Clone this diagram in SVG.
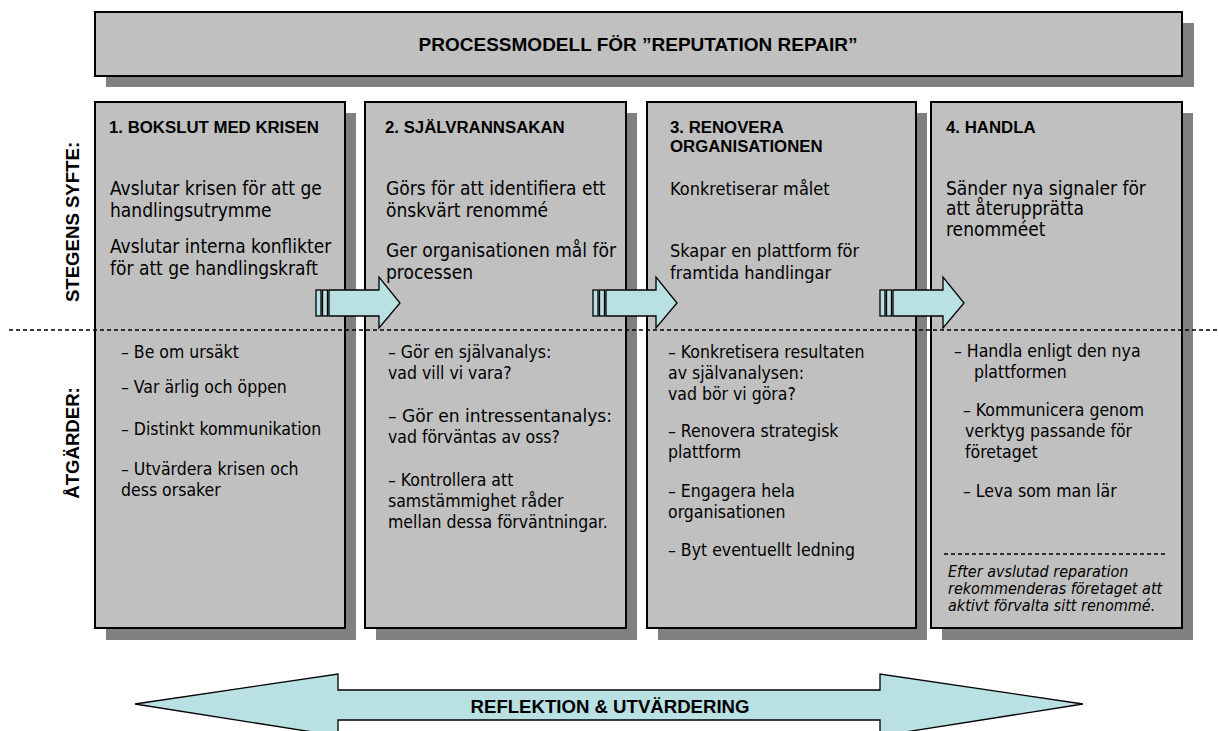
<svg xmlns="http://www.w3.org/2000/svg" width="1218" height="731" viewBox="0 0 1218 731">
  <style>
    .box { fill: #c0c0c0; stroke: #000; stroke-width: 2; }
    .shadow { fill: #808080; }
    .arrow { fill: #b9e0e2; stroke: #000; stroke-width: 1.3; stroke-linejoin: miter; }
    .dash { stroke: #000; stroke-width: 1.3; stroke-dasharray: 4 3; fill: none; }
    .title { font-family: "Liberation Sans", Arial, sans-serif; font-weight: bold; font-size: 19px; fill: #000; }
    .label { font-family: "Liberation Sans", Arial, sans-serif; font-weight: bold; font-size: 18.6px; fill: #000; }
    .head { font-family: "Liberation Sans", Arial, sans-serif; font-weight: bold; font-size: 16.8px; fill: #000; }
    .body, .aim, .note { font-family: "DejaVu Sans Condensed", "DejaVu Sans", sans-serif; font-stretch: condensed; fill: #000; }
    .body { font-size: 17.5px; }
    .aim { font-size: 19px; }
    .aim.small { font-size: 18px; }
    .note { font-size: 16px; font-style: italic; }
  </style>
  <defs>
    <g id="step-arrow">
      <rect class="arrow" x="0" y="290" width="5" height="26"/>
      <rect class="arrow" x="6.5" y="290" width="5" height="26"/>
      <polygon class="arrow" points="13,290 63,290 63,277 84,303 63,328 63,316 13,316"/>
    </g>
  </defs>
  <rect width="1218" height="731" fill="#fff"/>

  <!-- Title -->
  <g id="title">
    <rect class="shadow" x="106" y="23" width="1088" height="64"/>
    <rect class="box" x="95" y="12" width="1087" height="64"/>
    <text class="title" x="638" y="51" text-anchor="middle">PROCESSMODELL FÖR ”REPUTATION REPAIR”</text>
  </g>

  <!-- Row labels -->
  <g id="row-labels">
    <text class="label" transform="translate(79,222) rotate(-90)" text-anchor="middle">STEGENS SYFTE:</text>
    <text class="label" transform="translate(79,443) rotate(-90)" text-anchor="middle">ÅTGÄRDER:</text>
  </g>

  <!-- Step 1 -->
  <g id="step1">
    <rect class="shadow" x="106" y="113" width="250" height="527"/>
    <rect class="box" x="95" y="102" width="250" height="526"/>
    <text class="head" x="109" y="133">1. BOKSLUT MED KRISEN</text>
    <text class="aim" x="110" y="195">Avslutar krisen för att ge</text>
    <text class="aim" x="110" y="217">handlingsutrymme</text>
    <text class="aim" x="110" y="253">Avslutar interna konflikter</text>
    <text class="aim" x="110" y="275">för att ge handlingskraft</text>
    <text class="body" x="121" y="358">– Be om ursäkt</text>
    <text class="body" x="121" y="393">– Var ärlig och öppen</text>
    <text class="body" x="121" y="435">– Distinkt kommunikation</text>
    <text class="body" x="121" y="475">– Utvärdera krisen och</text>
    <text class="body" x="121" y="496">dess orsaker</text>
  </g>

  <!-- Step 2 -->
  <g id="step2">
    <rect class="shadow" x="376" y="113" width="261" height="527"/>
    <rect class="box" x="365" y="102" width="261" height="526"/>
    <text class="head" x="385" y="133">2. SJÄLVRANNSAKAN</text>
    <text class="aim" x="386" y="195">Görs för att identifiera ett</text>
    <text class="aim" x="386" y="217">önskvärt renommé</text>
    <text class="aim" x="386" y="257">Ger organisationen mål för</text>
    <text class="aim" x="386" y="279">processen</text>
    <text class="body" x="388" y="358">– Gör en självanalys:</text>
    <text class="body" x="388" y="379">vad vill vi vara?</text>
    <text class="body" x="388" y="422" textLength="224" lengthAdjust="spacingAndGlyphs">– Gör en intressentanalys:</text>
    <text class="body" x="388" y="443">vad förväntas av oss?</text>
    <text class="body" x="388" y="486">– Kontrollera att</text>
    <text class="body" x="388" y="507">samstämmighet råder</text>
    <text class="body" x="388" y="528">mellan dessa förväntningar.</text>
  </g>

  <!-- Step 3 -->
  <g id="step3">
    <rect class="shadow" x="658" y="113" width="269" height="527"/>
    <rect class="box" x="647" y="102" width="269" height="526"/>
    <text class="head" x="670" y="133">3. RENOVERA</text>
    <text class="head" x="670" y="152">ORGANISATIONEN</text>
    <text class="aim small" x="670" y="195">Konkretiserar målet</text>
    <text class="aim small" x="670" y="257">Skapar en plattform för</text>
    <text class="aim small" x="670" y="279">framtida handlingar</text>
    <text class="body" x="668" y="358">– Konkretisera resultaten</text>
    <text class="body" x="668" y="379">av självanalysen:</text>
    <text class="body" x="668" y="400">vad bör vi göra?</text>
    <text class="body" x="668" y="437">– Renovera strategisk</text>
    <text class="body" x="668" y="458">plattform</text>
    <text class="body" x="668" y="497">– Engagera hela</text>
    <text class="body" x="668" y="518">organisationen</text>
    <text class="body" x="668" y="556">– Byt eventuellt ledning</text>
  </g>

  <!-- Step 4 -->
  <g id="step4">
    <rect class="shadow" x="942" y="113" width="251" height="527"/>
    <rect class="box" x="931" y="102" width="251" height="526"/>
    <text class="head" x="946" y="133">4. HANDLA</text>
    <text class="aim" x="946" y="195">Sänder nya signaler för</text>
    <text class="aim" x="946" y="215">att återupprätta</text>
    <text class="aim" x="946" y="236">renomméet</text>
    <text class="body" x="954" y="357">– Handla enligt den nya</text>
    <text class="body" x="974" y="378">plattformen</text>
    <text class="body" x="963" y="416">– Kommunicera genom</text>
    <text class="body" x="965" y="437">verktyg passande för</text>
    <text class="body" x="965" y="458">företaget</text>
    <text class="body" x="963" y="497">– Leva som man lär</text>
    <line class="dash" x1="944" y1="554" x2="1168" y2="554"/>
    <text class="note" x="948" y="577">Efter avslutad reparation</text>
    <text class="note" x="948" y="594">rekommenderas företaget att</text>
    <text class="note" x="948" y="611">aktivt förvalta sitt renommé.</text>
  </g>

  <!-- Connectors -->
  <g id="connectors">
    <line class="dash" x1="9" y1="330" x2="1218" y2="330"/>
    <use href="#step-arrow" x="316"/>
    <use href="#step-arrow" x="593"/>
    <use href="#step-arrow" x="880"/>
  </g>

  <!-- Reflection arrow -->
  <g id="reflection">
    <polygon class="arrow" points="135,704 338,674 338,690 880,690 880,674 1083,704 880,736 880,720 338,720 338,736"/>
    <text class="label" x="610" y="713" text-anchor="middle">REFLEKTION &amp; UTVÄRDERING</text>
  </g>
</svg>
